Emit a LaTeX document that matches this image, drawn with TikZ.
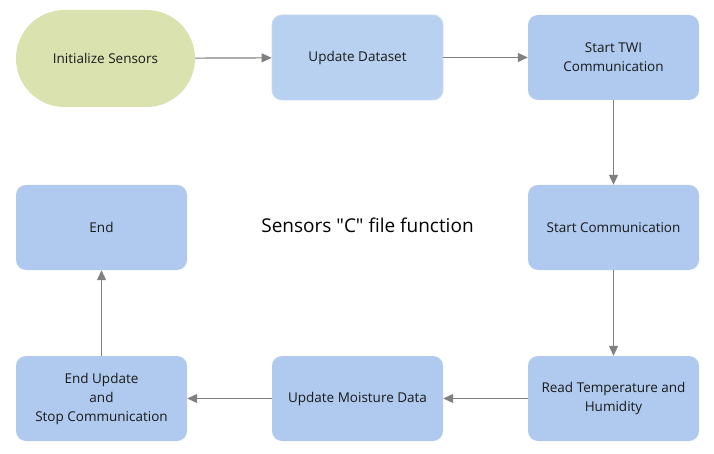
\documentclass[tikz,border=0pt]{standalone}
\usepackage{fontspec}
\setmainfont{Open Sans}[Ligatures=TeXOff]
\usetikzlibrary{arrows.meta,shapes.misc}
\definecolor{boxblue}{HTML}{AFCAEE}
\definecolor{boxlight}{HTML}{B8D1F0}
\definecolor{boxedge}{HTML}{C6DAF3}
\definecolor{startgreen}{HTML}{DAE2B0}
\definecolor{linegray}{HTML}{808080}
\definecolor{txt}{HTML}{1A1A1A}
\tikzset{
  procbox/.style={rectangle, rounded corners=10pt, fill=boxblue, draw=none,
    minimum width=171pt, minimum height=85pt, align=center, text=txt,
    font=\fontsize{13.5}{19}\selectfont, inner sep=0pt},
  lightbox/.style={procbox, fill=boxlight, draw=boxedge, line width=0.8pt},
  startbox/.style={rounded rectangle, fill=startgreen, draw=none,
    minimum width=179pt, minimum height=97pt, align=center, text=txt,
    font=\fontsize{13.5}{19}\selectfont, inner sep=0pt},
  conn/.style={draw=linegray, line width=1.2pt,
    -{Triangle[length=10pt,width=9pt]}}
}
\begin{document}
\begin{tikzpicture}[x=1pt,y=-1pt]
\useasboundingbox (0,0) rectangle (714,454);
\node[startbox] (init) at (105.5,58.5) {Initialize Sensors};
\node[lightbox] (upd) at (357.5,57.5) {Update Dataset};
\node[procbox] (twi) at (613.5,57.5) {Start TWI\\Communication};
\node[procbox] (scom) at (613.5,227.5) {Start Communication};
\node[procbox] (read) at (613.5,398.5) {Read Temperature and\\Humidity};
\node[procbox] (moist) at (357.5,398.5) {Update Moisture Data};
\node[procbox] (endupd) at (101.5,398.5) {End Update\\and\\Stop Communication};
\node[procbox] (end) at (101.5,227.5) {End};
\node[font=\fontsize{19}{22}\selectfont, text=black] (title) at (367.5,225) {Sensors "C" file function};
\draw[conn] (init) -- (upd);
\draw[conn] (upd) -- (twi);
\draw[conn] (twi) -- (scom);
\draw[conn] (scom) -- (read);
\draw[conn] (read) -- (moist);
\draw[conn] (moist) -- (endupd);
\draw[conn] (endupd) -- (end);
\end{tikzpicture}
\end{document}
